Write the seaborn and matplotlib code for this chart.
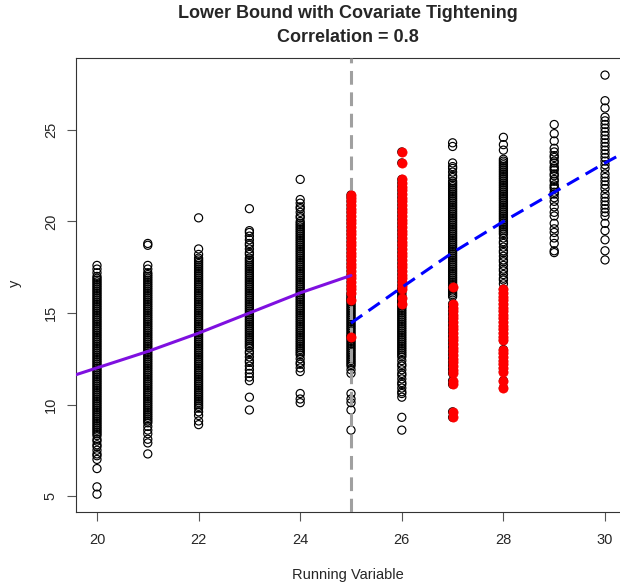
import numpy as np
import pandas as pd
import matplotlib
matplotlib.use("Agg")
import matplotlib.pyplot as plt
import seaborn as sns

# y values, one list per running-variable value
# open (kept) points
open_pts = {
    20: [5.1, 5.5, 6.5, 7.0, 7.2, 7.3, 7.5, 7.7, 7.8, 8.0, 8.1, 8.3,
         8.4, 8.5, 8.6, 8.7, 8.8, 8.9, 9.0, 9.1, 9.2, 9.3, 9.4, 9.5, 9.6, 9.7, 9.8, 9.9,
         10.0, 10.1, 10.2, 10.3, 10.4, 10.5, 10.6, 10.7, 10.8, 10.9, 11.0, 11.1, 11.2, 11.3,
         11.4, 11.5, 11.6, 11.7, 11.8, 11.9, 12.0, 12.1, 12.2, 12.3, 12.4, 12.5, 12.6, 12.7,
         12.8, 12.9, 13.0, 13.1, 13.2, 13.3, 13.4, 13.5, 13.6, 13.7, 13.8, 13.9, 14.0, 14.1,
         14.2, 14.3, 14.4, 14.5, 14.6, 14.7, 14.8, 14.9, 15.0, 15.1, 15.2, 15.3, 15.4, 15.5,
         15.6, 15.7, 15.8, 15.9, 16.0, 16.1, 16.2, 16.3, 16.4, 16.5, 16.6, 16.7, 16.8, 16.9,
         17.0, 17.2, 17.4, 17.6],
    21: [7.3, 7.9, 8.1, 8.4, 8.6, 8.8,
         9.0, 9.1, 9.2, 9.3, 9.4, 9.5, 9.6, 9.7, 9.8, 9.9, 10.0, 10.1, 10.2, 10.3, 10.4, 10.5,
         10.6, 10.7, 10.8, 10.9, 11.0, 11.1, 11.2, 11.3, 11.4, 11.5, 11.6, 11.7, 11.8, 11.9,
         12.0, 12.1, 12.2, 12.3, 12.4, 12.5, 12.6, 12.7, 12.8, 12.9, 13.0, 13.1, 13.2, 13.3,
         13.4, 13.5, 13.6, 13.7, 13.8, 13.9, 14.0, 14.1, 14.2, 14.3, 14.4, 14.5, 14.6, 14.7,
         14.8, 14.9, 15.0, 15.1, 15.2, 15.3, 15.4, 15.5, 15.6, 15.7, 15.8, 15.9, 16.0, 16.1,
         16.2, 16.3, 16.4, 16.5, 16.6, 16.7, 16.8, 16.9, 17.0, 17.1, 17.2,
         17.4, 17.6, 18.7, 18.8],
    22: [8.9, 9.1, 9.4, 9.6, 9.8,
         9.9, 10.0, 10.1, 10.2, 10.3, 10.4, 10.5, 10.6, 10.7, 10.8, 10.9, 11.0, 11.1, 11.2,
         11.3, 11.4, 11.5, 11.6, 11.7, 11.8, 11.9, 12.0, 12.1, 12.2, 12.3, 12.4, 12.5, 12.6,
         12.7, 12.8, 12.9, 13.0, 13.1, 13.2, 13.3, 13.4, 13.5, 13.6, 13.7, 13.8, 13.9, 14.0,
         14.1, 14.2, 14.3, 14.4, 14.5, 14.6, 14.7, 14.8, 14.9, 15.0, 15.1, 15.2, 15.3, 15.4,
         15.5, 15.6, 15.7, 15.8, 15.9, 16.0, 16.1, 16.2, 16.3, 16.4, 16.5, 16.6, 16.7, 16.8,
         16.9, 17.0, 17.1, 17.2, 17.3, 17.4, 17.5, 17.6, 17.7, 17.8, 17.9, 18.0,
         18.2, 18.5, 20.2],
    23: [9.7, 10.4, 11.3, 11.5, 11.7, 11.9, 12.1, 12.3, 12.4, 12.6, 12.8, 12.9, 13.1, 13.2,
         13.3, 13.4, 13.5, 13.6, 13.7, 13.8, 13.9, 14.0, 14.1, 14.2, 14.3, 14.4, 14.5, 14.6,
         14.7, 14.8, 14.9, 15.0, 15.1, 15.2, 15.3, 15.4, 15.5, 15.6, 15.7, 15.8, 15.9, 16.0,
         16.1, 16.2, 16.3, 16.4, 16.5, 16.6, 16.7, 16.8, 16.9, 17.0, 17.1, 17.2, 17.3, 17.4,
         17.5, 17.6, 17.7, 17.8, 17.9, 18.0,
         18.2, 18.3, 18.5, 18.7, 18.8, 19.0, 19.2, 19.4, 19.5, 20.7],
    24: [10.1, 10.3, 10.6, 11.8, 12.0, 12.2, 12.3, 12.5, 12.7, 12.8,
         12.9, 13.0, 13.1, 13.2, 13.3, 13.4, 13.5, 13.6, 13.7, 13.8, 13.9, 14.0, 14.1, 14.2,
         14.3, 14.4, 14.5, 14.6, 14.7, 14.8, 14.9, 15.0, 15.1, 15.2, 15.3, 15.4, 15.5, 15.6,
         15.7, 15.8, 15.9, 16.0, 16.1, 16.2, 16.3, 16.4, 16.5, 16.6, 16.7, 16.8, 16.9, 17.0,
         17.1, 17.2, 17.3, 17.4, 17.5, 17.6, 17.7, 17.8, 17.9, 18.0, 18.1, 18.2, 18.3, 18.4,
         18.5, 18.6, 18.7, 18.8, 18.9, 19.0, 19.1, 19.2, 19.3, 19.4, 19.5, 19.6, 19.7, 19.8,
         19.9, 20.0, 20.2, 20.3, 20.5, 20.7, 20.8, 21.0, 21.2, 22.3],
    25: [8.6, 9.7, 10.1, 10.3, 10.6, 11.7, 11.9, 12.1,
         12.2, 12.3, 12.4, 12.5, 12.6, 12.7, 12.8, 12.9, 13.0, 13.1, 13.2, 13.3, 13.4, 13.5,
         13.6, 13.7, 13.8, 13.9, 14.0, 14.1, 14.2, 14.3, 14.4, 14.5, 14.6, 14.7, 14.8, 14.9,
         15.0, 15.1, 15.2, 15.3, 15.4, 15.5, 15.6, 15.7, 15.8, 15.9, 16.0],
    26: [8.6, 9.3, 10.4, 10.6, 10.7, 10.9, 11.1, 11.2, 11.4, 11.6, 11.7, 11.9, 12.1, 12.2,
         12.4, 12.6, 12.7,
         12.8, 12.9, 13.0, 13.1, 13.2, 13.3, 13.4, 13.5, 13.6, 13.7, 13.8, 13.9, 14.0, 14.1,
         14.2, 14.3, 14.4, 14.5, 14.6, 14.7, 14.8, 14.9, 15.0, 15.1, 15.2, 15.3, 15.4, 15.5,
         15.6, 15.7, 15.8, 15.9, 16.0, 16.1, 16.2, 16.3],
    27: [15.9, 16.0, 16.1, 16.2, 16.3, 16.4, 16.5, 16.6, 16.7, 16.8, 16.9, 17.0, 17.1, 17.2,
         17.3, 17.4, 17.5, 17.6, 17.7, 17.8, 17.9, 18.0, 18.1, 18.2, 18.3, 18.4, 18.5, 18.6,
         18.7, 18.8, 18.9, 19.0, 19.1, 19.2, 19.3, 19.4, 19.5, 19.6, 19.7, 19.8, 19.9, 20.0,
         20.1, 20.2, 20.3, 20.4, 20.5, 20.6, 20.7, 20.8, 20.9, 21.0, 21.1, 21.2, 21.3, 21.4,
         21.5, 21.6, 21.7, 21.8, 21.9, 22.0, 22.1,
         22.2, 22.4, 22.5, 22.7, 22.9, 23.0, 23.2, 24.1, 24.3],
    28: [16.6, 16.8, 16.9, 17.1, 17.3, 17.4, 17.6, 17.8, 17.9, 18.1, 18.3, 18.4, 18.6, 18.8,
         18.9, 19.1, 19.3,
         19.4, 19.5, 19.6, 19.7, 19.8, 19.9, 20.0, 20.1, 20.2, 20.3, 20.4, 20.5, 20.6, 20.7,
         20.8, 20.9, 21.0, 21.1, 21.2, 21.3, 21.4, 21.5, 21.6, 21.7, 21.8, 21.9, 22.0, 22.1,
         22.2, 22.3, 22.4, 22.5, 22.6, 22.7, 22.8, 22.9, 23.0, 23.1, 23.2, 23.3, 23.4,
         23.9, 24.2, 24.6],
    29: [18.3, 18.4, 18.8, 19.1, 19.4, 19.6, 19.9, 20.3, 20.5, 20.8, 21.1, 21.3, 21.5, 21.6,
         21.8, 21.9, 22.0, 22.2, 22.3, 22.5, 22.6, 22.8, 22.9, 23.0, 23.2, 23.3, 23.5, 23.6,
         23.8, 24.0, 24.4, 24.8, 25.3],
    30: [17.9, 18.4, 19.0, 19.5, 19.9, 20.3, 20.5, 20.7, 20.9, 21.1, 21.3, 21.5, 21.8, 22.0,
         22.2, 22.4, 22.6, 22.9, 23.1, 23.3, 23.5, 23.7, 23.9, 24.1, 24.3, 24.5, 24.7, 24.9,
         25.1, 25.3, 25.5, 25.7, 26.2, 26.6, 28.0],
}

# trimmed points (red)
trimmed_pts = {
    25: [13.7, 15.7, 16.1, 16.3, 16.5, 16.7, 16.9, 17.1, 17.3, 17.5, 17.7, 17.9, 18.1, 18.3,
         18.5, 18.7, 18.9, 19.1, 19.3, 19.5, 19.7, 19.9, 20.1, 20.3, 20.5, 20.7, 20.9, 21.1,
         21.3, 21.45],
    26: [15.5, 15.8, 16.3, 16.5, 16.7, 16.9, 17.1, 17.3, 17.5, 17.7, 17.9, 18.1, 18.3, 18.5,
         18.7, 18.9, 19.1, 19.3, 19.5, 19.7, 19.9, 20.1, 20.3, 20.5, 20.7, 20.9, 21.1, 21.3,
         21.5, 21.7, 21.9, 22.1, 22.3, 23.2, 23.8],
    27: [9.3, 9.6, 11.1, 11.3, 11.7, 11.9, 12.1, 12.3, 12.5, 12.7, 12.9, 13.1, 13.3, 13.5,
         13.7, 13.9, 14.1, 14.3, 14.5, 14.7, 14.9, 15.1, 15.3, 15.5, 16.4],
    28: [10.9, 11.3, 11.8, 12.0, 12.2, 12.4, 12.6, 12.8, 13.0, 13.5, 13.7, 13.9, 14.1, 14.3,
         14.5, 14.7, 14.9, 15.1, 15.3, 15.5, 15.7, 15.9, 16.1, 16.3],
}

# fitted lines left and right of the cutoff
left_x = [19.5, 20, 21, 22, 23, 24, 25]
left_y = [11.55, 12.0, 12.9, 13.9, 15.0, 16.1, 17.05]
right_x = [25, 26, 27, 28, 29, 30, 30.4]
right_y = [14.45, 16.4, 18.3, 20.0, 21.6, 23.2, 23.8]
cutoff = 25

rows = []
for k, v in open_pts.items():
    rows += [(k, y, "open") for y in v]
for k, v in trimmed_pts.items():
    rows += [(k, y, "trimmed") for y in v]
df = pd.DataFrame(rows, columns=["x", "y", "kind"])

sns.set_style("white")
plt.rcParams['font.family'] = ['Liberation Sans', 'DejaVu Sans']

W, H = 620, 587
fig = plt.figure(figsize=(W / 100, H / 100), dpi=100)
ax = fig.add_axes([76 / W, (H - 512) / H, (W - 76) / W, (512 - 58) / H])

sns.scatterplot(data=df, x="x", y="y", s=34, marker="o", facecolor="none",
                edgecolor="black", linewidth=0.85, ax=ax, zorder=2)
ax.axvline(cutoff, color="#a0a0a0", lw=2.2, linestyle=(0, (4.5, 2.5)), zorder=3)
sns.scatterplot(data=df[df.kind == "trimmed"], x="x", y="y", s=44, marker="o",
                color="red", edgecolor="red", linewidth=0.5, ax=ax, zorder=4)
sns.lineplot(x=left_x, y=left_y, color="#7f10e0", lw=2.2, ax=ax, zorder=5)
sns.lineplot(x=right_x, y=right_y, color="#0000ff", lw=2.2,
             linestyle=(0, (4.5, 2.5)), ax=ax, zorder=5)

ax.set_xlim(19.587, 30.295)
ax.set_ylim(4.126, 28.934)
ax.set_xticks([20, 22, 24, 26, 28, 30])
ax.set_yticks([5, 10, 15, 20, 25])
ax.set_xlabel("")
ax.set_ylabel("")
for s in ["left", "bottom", "top"]:
    ax.spines[s].set_color("#333333")
    ax.spines[s].set_linewidth(0.8)
ax.spines["right"].set_visible(False)
ax.tick_params(axis="both", direction="out", length=6.5, width=0.8, color="#555555",
               labelsize=10.5, bottom=True, left=True)
ax.tick_params(axis="x", pad=8.5)
ax.tick_params(axis="y", pad=6.5)
plt.setp(ax.get_yticklabels(), rotation=90, va="center")

cx = (76 + W) / 2 / W
fig.text(cx, 1 - 14 / H, "Lower Bound with Covariate Tightening", ha="center", va="center",
         fontsize=13, fontweight="bold")
fig.text(cx, 1 - 38 / H, "Correlation = 0.8", ha="center", va="center",
         fontsize=13, fontweight="bold")
fig.text(cx, 1 - 575 / H, "Running Variable", ha="center", va="center", fontsize=10.5)
fig.text(15 / W, 1 - 283 / H, "y", ha="center", va="center", rotation=90, fontsize=10.5)

fig.savefig("out.png", dpi=100)
